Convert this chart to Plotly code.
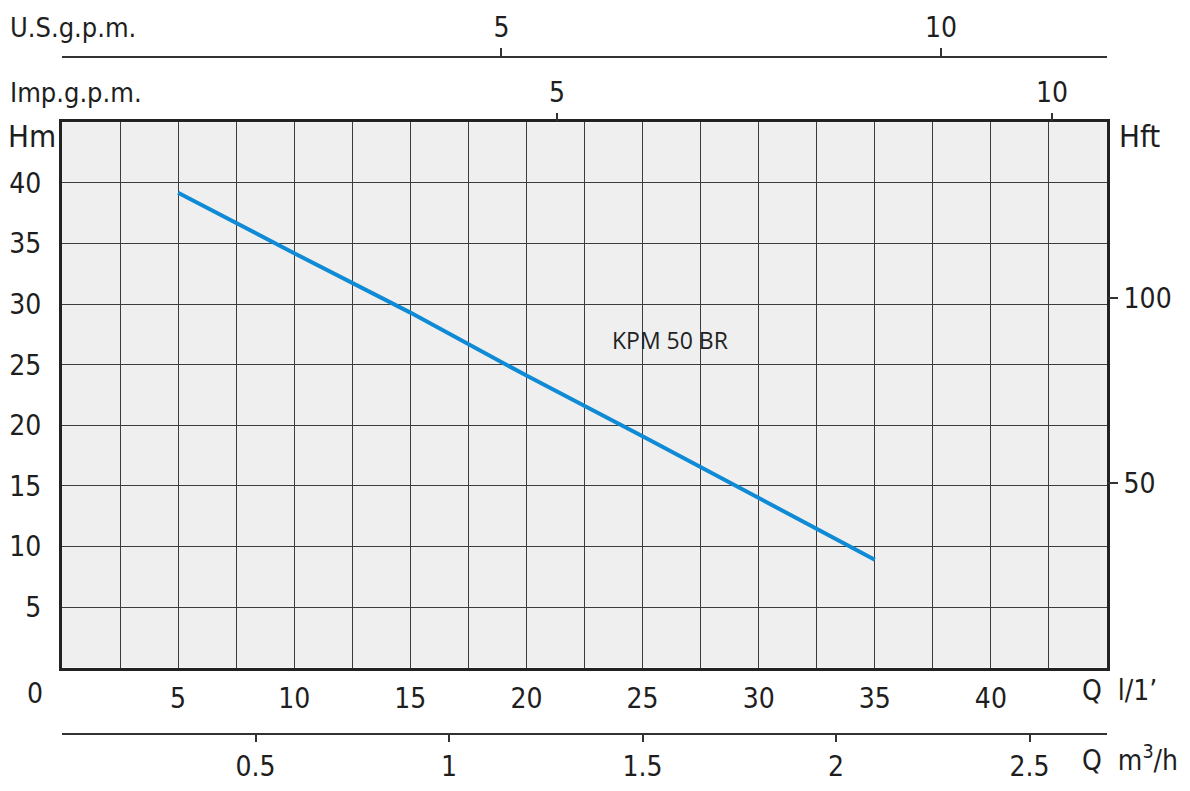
import numpy as np
import plotly.graph_objects as go

# pump curve KPM 50 BR
q_lmin = [5, 10, 15, 20, 25, 30, 35]
head_m = [39.2, 34.2, 29.3, 24.1, 19.1, 14.0, 8.9]
curve_name = "KPM 50 BR"

x_ticks = list(np.arange(0, 45.01, 2.5))
x_text = ["" if (v % 5 or v in (0, 45)) else str(int(v)) for v in x_ticks]
y_ticks = list(range(0, 46, 5))
y_text = [""] + [str(v) for v in range(5, 41, 5)] + [""]
m3h_ticks = [0.5, 1, 1.5, 2, 2.5]
m3h_text = ["0.5", "1", "1.5", "2", "2.5"]
usgpm_ticks = [5, 10]
impgpm_ticks = [5, 10]
hft_ticks = [50, 100]

# page body has an 8px margin, so the figure is a bit smaller than the window
OFF = 8
W, H = 1190 - 2 * OFF, 791 - 2 * OFF
FONT = "DejaVu Sans Condensed, Liberation Sans Narrow, sans-serif"
TXT = "#1e1e1e"
GRID = "#3c3c3c"


def px(x):
    return (x - OFF) / W


def py(y):
    return 1 - (y - OFF) / H


fig = go.Figure()
fig.add_trace(go.Scatter(x=q_lmin, y=head_m, mode="lines",
                         line=dict(color="#0f8ad5", width=4),
                         showlegend=False, hoverinfo="skip"))
# dummy traces so that the extra axes are drawn
for xa, ya in [("x2", "y"), ("x3", "y"), ("x4", "y"), ("x", "y2")]:
    fig.add_trace(go.Scatter(x=[None], y=[None], xaxis=xa, yaxis=ya,
                             showlegend=False, hoverinfo="skip"))

tickfont = dict(family=FONT, size=28, color=TXT)

fig.update_layout(
    width=W, height=H,
    margin=dict(l=0, r=0, t=0, b=0),
    paper_bgcolor="white", plot_bgcolor="#efefef",
    font=dict(family=FONT, color=TXT),
    xaxis=dict(domain=[px(62), px(1107)], range=[0, 45], tickmode="array",
               tickvals=x_ticks, ticktext=x_text, ticks="",
               showgrid=True, gridcolor=GRID, gridwidth=1.3,
               showline=True, linecolor="#222", linewidth=3, mirror=True,
               zeroline=False, tickfont=tickfont, ticklabelstandoff=4),
    yaxis=dict(domain=[py(671), py(123)], range=[0, 45], tickmode="array",
               tickvals=y_ticks, ticktext=y_text, ticks="",
               showgrid=True, gridcolor=GRID, gridwidth=1.3,
               showline=True, linecolor="#222", linewidth=3, mirror=True,
               zeroline=False, tickfont=tickfont, ticklabelstandoff=12),
    xaxis2=dict(overlaying="x", anchor="free", position=py(738),
                side="bottom", range=[0, 2.7], tickmode="array",
                tickvals=m3h_ticks, ticktext=m3h_text, ticks="outside",
                ticklen=7, tickcolor="#333", tickwidth=1.5,
                showline=True, linecolor="#333", linewidth=1.5,
                showgrid=False, zeroline=False, tickfont=tickfont,
                ticklabelstandoff=0),
    xaxis3=dict(overlaying="x", anchor="free", position=py(57),
                side="top", range=[0, 45 / 3.785], tickmode="array",
                tickvals=usgpm_ticks, ticks="outside", ticklen=8,
                tickcolor="#333", tickwidth=1.5,
                showline=True, linecolor="#333", linewidth=1.5,
                showgrid=False, zeroline=False, tickfont=tickfont,
                ticklabelstandoff=0),
    xaxis4=dict(overlaying="x", anchor="y", side="top",
                range=[0, 10.556], tickmode="array",
                tickvals=impgpm_ticks, ticks="outside", ticklen=8,
                tickcolor="#333", tickwidth=1.5, showline=False,
                showgrid=False, zeroline=False, tickfont=tickfont,
                ticklabelstandoff=0),
    yaxis2=dict(overlaying="y", side="right", anchor="x",
                range=[0, 45 / 0.3048], tickmode="array",
                tickvals=hft_ticks, ticks="outside", ticklen=10,
                tickcolor="#333", tickwidth=1.5, showline=False,
                showgrid=False, zeroline=False, tickfont=tickfont,
                ticklabelstandoff=0),
)


def label(text, x, y, size=28, xanchor="left"):
    fig.add_annotation(text=text, x=px(x), y=py(y), xref="paper",
                       yref="paper", xanchor=xanchor, yanchor="middle",
                       showarrow=False,
                       font=dict(family=FONT, size=size, color=TXT))


label("U.S.g.p.m.", 8, 28, size=27)
label("Imp.g.p.m.", 8, 93, size=27)
label("Hm", 6, 137, size=31)
label("Hft", 1117, 137, size=31)
label("0", 35, 697, xanchor="center")
label("Q  l/1’", 1080, 694)
label("Q  m<sup>3</sup>/h", 1080, 762)

fig.add_annotation(text=curve_name, x=26.2, y=27.0, xref="x", yref="y",
                   showarrow=False,
                   font=dict(family="Open Sans, sans-serif", size=23,
                             color="#222"))

fig.write_html("out.html")
